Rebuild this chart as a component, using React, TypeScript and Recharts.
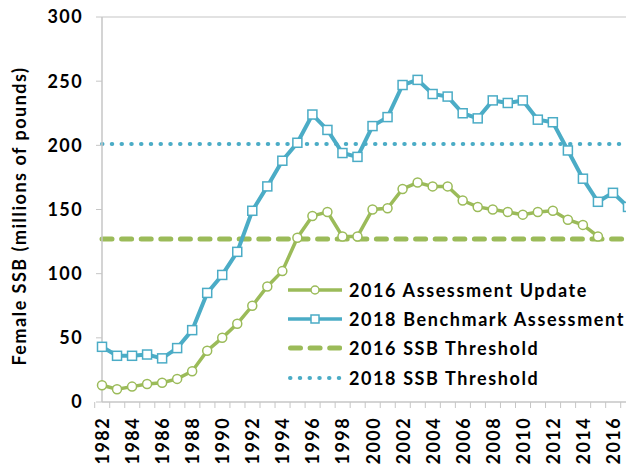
import React from 'react';
import { LineChart, Line, XAxis, YAxis, ReferenceLine } from 'recharts';

const YEARS = [
  '1982', '1983', '1984', '1985', '1986', '1987', '1988', '1989', '1990', '1991', '1992', '1993',
  '1994', '1995', '1996', '1997', '1998', '1999', '2000', '2001', '2002', '2003', '2004', '2005',
  '2006', '2007', '2008', '2009', '2010', '2011', '2012', '2013', '2014', '2015', '2016', '2017'
];

// 2016 Assessment Update (ends 2015)
const ASSESS_2016 = [
  13, 10, 12, 14, 15, 18, 24, 40, 50, 61, 75, 90,
  102, 128, 145, 148, 129, 129, 150, 151, 166, 171, 168, 168,
  157, 152, 150, 148, 146, 148, 149, 142, 138, 129, null, null
];

// 2018 Benchmark Assessment
const BENCH_2018 = [
  43, 36, 36, 37, 34, 42, 56, 85, 99, 117, 149, 168,
  188, 202, 224, 212, 194, 191, 215, 222, 247, 251, 240, 238,
  225, 221, 235, 233, 235, 220, 218, 196, 174, 156, 163, 152
];

const THRESHOLD_2016 = 127;
const THRESHOLD_2018 = 201;

const Y_TICKS = [0, 50, 100, 150, 200, 250, 300];

const GREEN = '#9BBB59';
const BLUE = '#4BACC6';
const AXIS = '#c6c6c6';
const FONT = 'Lato, "Open Sans", sans-serif';
const SPACING = 1.4;

const data = YEARS.map((year, i) => ({
  year,
  assess: ASSESS_2016[i],
  bench: BENCH_2018[i],
  thr16: THRESHOLD_2016,
  thr18: THRESHOLD_2018,
}));

const PLOT_LEFT = 102;
const PLOT_RIGHT = 628;
const BAND = (PLOT_RIGHT - PLOT_LEFT) / YEARS.length;

const XTick = (props: any) => {
  const { x, y, payload, index } = props;
  const show = index % 2 === 0;
  const bx = x - BAND / 2;
  return (
    <g>
      <line x1={bx} y1={y} x2={bx} y2={y + 6} stroke={AXIS} strokeWidth={1} />
      {index === YEARS.length - 1 && (
        <line x1={bx + BAND} y1={y} x2={bx + BAND} y2={y + 6} stroke={AXIS} strokeWidth={1} />
      )}
      {show && (
        <text
          x={x}
          y={y + 15}
          transform={`rotate(-90 ${x} ${y + 15})`}
          textAnchor="end"
          dominantBaseline="central"
          fontFamily={FONT}
          fontWeight={700}
          fontSize={18}
          letterSpacing={SPACING}
          fill="#000"
        >
          {payload.value}
        </text>
      )}
    </g>
  );
};

const Square = (props: any) => {
  const { cx, cy } = props;
  if (cx == null || cy == null) return null;
  return <rect x={cx - 4.5} y={cy - 4.5} width={9} height={9} fill="#fff" stroke={BLUE} strokeWidth={1.5} />;
};

const LEGEND = [
  { name: '2016 Assessment Update', kind: 'circle' },
  { name: '2018 Benchmark Assessment', kind: 'square' },
  { name: '2016 SSB Threshold', kind: 'dash' },
  { name: '2018 SSB Threshold', kind: 'dot' },
];

const LegendBox = () => (
  <div style={{ position: 'absolute', left: 288, top: 275, fontFamily: FONT }}>
    {LEGEND.map((item) => (
      <div key={item.name} style={{ display: 'flex', alignItems: 'center', height: 29.3 }}>
        <svg width={54} height={14} style={{ display: 'block' }}>
          {item.kind === 'circle' && (
            <>
              <line x1={0} y1={7} x2={54} y2={7} stroke={GREEN} strokeWidth={3.5} />
              <circle cx={27} cy={7} r={4} fill="#fff" stroke={GREEN} strokeWidth={1.5} />
            </>
          )}
          {item.kind === 'square' && (
            <>
              <line x1={0} y1={7} x2={54} y2={7} stroke={BLUE} strokeWidth={3.5} />
              <rect x={23} y={3} width={8} height={8} fill="#fff" stroke={BLUE} strokeWidth={1.5} />
            </>
          )}
          {item.kind === 'dash' && (
            <line x1={2.5} y1={7} x2={54} y2={7} stroke={GREEN} strokeWidth={5} strokeDasharray="10 9.6" strokeLinecap="round" />
          )}
          {item.kind === 'dot' && (
            <line x1={2} y1={7} x2={54} y2={7} stroke={BLUE} strokeWidth={4} strokeDasharray="0.5 9.25" strokeLinecap="round" />
          )}
        </svg>
        <span style={{ marginLeft: 7, fontWeight: 700, fontSize: 18, letterSpacing: 1.6, color: '#000', whiteSpace: 'nowrap' }}>
          {item.name}
        </span>
      </div>
    ))}
  </div>
);

export default function App() {
  return (
    <div style={{ position: 'absolute', left: 0, top: 0, width: 626, height: 464, overflow: 'hidden', background: '#fff' }}>
      <LineChart
        width={PLOT_RIGHT}
        height={464}
        data={data}
        margin={{ top: 17, right: 0, left: 0, bottom: 0 }}
      >
        <XAxis
          dataKey="year"
          height={62}
          interval={0}
          tickSize={0}
          tickMargin={0}
          tickLine={false}
          axisLine={{ stroke: AXIS, strokeWidth: 1.5 }}
          tick={(p: any) => <XTick {...p} />}
        />
        <YAxis
          width={PLOT_LEFT}
          domain={[0, 300]}
          ticks={Y_TICKS}
          interval={0}
          tickSize={6}
          tickMargin={13}
          axisLine={{ stroke: AXIS, strokeWidth: 1.5 }}
          tickLine={{ stroke: AXIS }}
          tick={{ fontFamily: FONT, fontWeight: 700, fontSize: 18, fill: '#000', letterSpacing: SPACING }}
          label={{
            content: () => (
              <text
                x={18.5}
                y={216}
                transform="rotate(-90 18.5 216)"
                textAnchor="middle"
                dominantBaseline="central"
                fontFamily={FONT}
                fontWeight={700}
                fontSize={18}
                letterSpacing={1.5}
                fill="#000"
              >
                Female SSB (millions of pounds)
              </text>
            ),
          }}
        />
        <ReferenceLine y={300} stroke="#d9d9d9" strokeWidth={1.5} />
        <Line
          dataKey="thr16"
          stroke={GREEN}
          strokeWidth={5}
          strokeDasharray="10 9.6"
          strokeLinecap="round"
          dot={false}
          activeDot={false}
          isAnimationActive={false}
        />
        <Line
          dataKey="thr18"
          stroke={BLUE}
          strokeWidth={4}
          strokeDasharray="0.5 9.25"
          strokeLinecap="round"
          dot={false}
          activeDot={false}
          isAnimationActive={false}
        />
        <Line
          dataKey="bench"
          stroke={BLUE}
          strokeWidth={4}
          dot={<Square />}
          activeDot={false}
          isAnimationActive={false}
        />
        <Line
          dataKey="assess"
          stroke={GREEN}
          strokeWidth={3.5}
          dot={{ r: 4.5, fill: '#fff', stroke: GREEN, strokeWidth: 1.5 }}
          activeDot={false}
          isAnimationActive={false}
        />
      </LineChart>
      <LegendBox />
    </div>
  );
}
